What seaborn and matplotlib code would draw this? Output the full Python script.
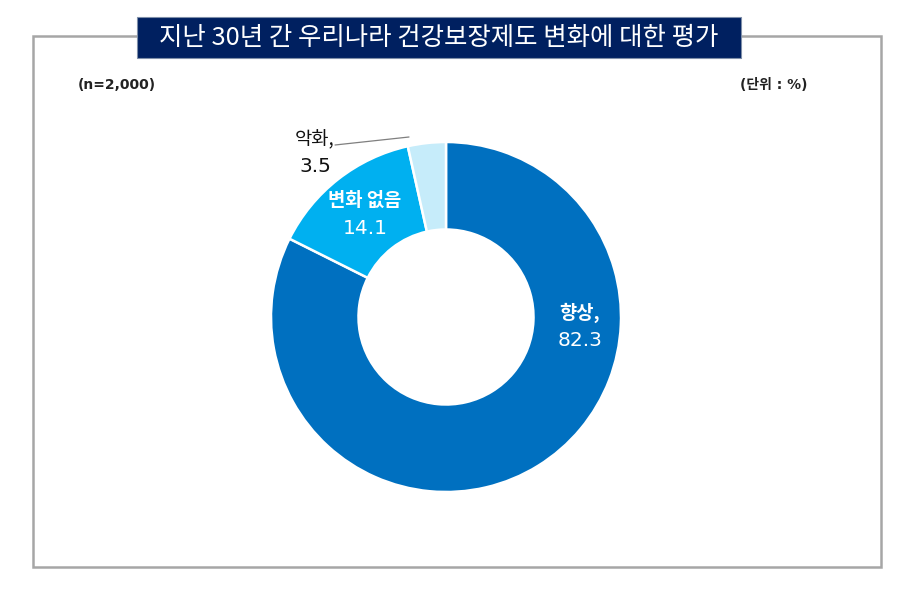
import matplotlib
matplotlib.use("Agg")
import matplotlib.pyplot as plt
import seaborn as sns
from matplotlib.patches import Rectangle

categories = ["향상", "변화 없음", "악화"]
values = [82.3, 14.1, 3.5]
title = "지난 30년 간 우리나라 건강보장제도 변화에 대한 평가"
note_left = "(n=2,000)"
note_right = "(단위 : %)"

sns.set_theme(style="white")
plt.rcParams['font.family'] = ['Noto Sans CJK KR', 'DejaVu Sans']

colors = ["#0070C0", "#00B0F0", "#C6ECFA"]
NUMFONT = ['DejaVu Sans', 'Noto Sans CJK KR']

W, H = 915, 599
fig = plt.figure(figsize=(W / 100, H / 100), dpi=100)
fig.patch.set_facecolor("white")

# frame
fig.patches.append(Rectangle((33 / W, 1 - 567 / H), (881 - 33) / W, (567 - 36) / H,
                             transform=fig.transFigure, fill=False,
                             edgecolor="#A6A6A6", linewidth=1.8, zorder=1))
# title box
fig.patches.append(Rectangle((137 / W, 1 - 58 / H), (741 - 137) / W, (58 - 17) / H,
                             transform=fig.transFigure, facecolor="#002060",
                             edgecolor="#7F8FA9", linewidth=0.8, zorder=2))
fig.text(439 / W, 1 - 38 / H, title, color="white", fontsize=18.3, ha="center",
         va="center", fontweight=500, zorder=3)
fig.text(78 / W, 1 - 85 / H, note_left, fontsize=10, fontweight="bold",
         ha="left", va="center", color="#222222", family=NUMFONT)
fig.text(808 / W, 1 - 85 / H, note_right, fontsize=10, fontweight="bold",
         ha="right", va="center", color="#222222", family=NUMFONT)

cx, cy, r = 446, 317, 175
ax = fig.add_axes([(cx - r) / W, (H - cy - r) / H, 2 * r / W, 2 * r / H])
wedges, _ = ax.pie(values, colors=colors, startangle=90, counterclock=False,
                   radius=1.0, wedgeprops=dict(width=0.5, edgecolor="white",
                                               linewidth=1.8))
ax.set_xlim(-1, 1)
ax.set_ylim(-1, 1)
ax.set_aspect("equal")
ax.axis("off")

def to_ax(px, py):
    return ((px - cx) / r, (cy - py) / r)

def label(px, py1, py2, name, val, color, weight):
    x, y = to_ax(px, py1)
    ax.text(x, y, name, color=color, fontsize=13.5, fontweight=weight,
            ha="center", va="center")
    x, y = to_ax(px, py2)
    ax.text(x, y, f"{val}", color=color, fontsize=14.5, fontweight="normal",
            ha="center", va="center", family=NUMFONT)

label(580, 313, 341, categories[0] + ",", values[0], "white", "bold")
label(365, 200, 228, categories[1], values[1], "white", "bold")
label(315, 140, 166, categories[2] + ",", values[2], "#111111", "normal")

x0, y0 = to_ax(335, 145)
x1, y1 = to_ax(409, 137)
ax.plot([x0, x1], [y0, y1], color="#7F7F7F", linewidth=0.9, clip_on=False)

fig.savefig("out.png", dpi=100, facecolor="white")
